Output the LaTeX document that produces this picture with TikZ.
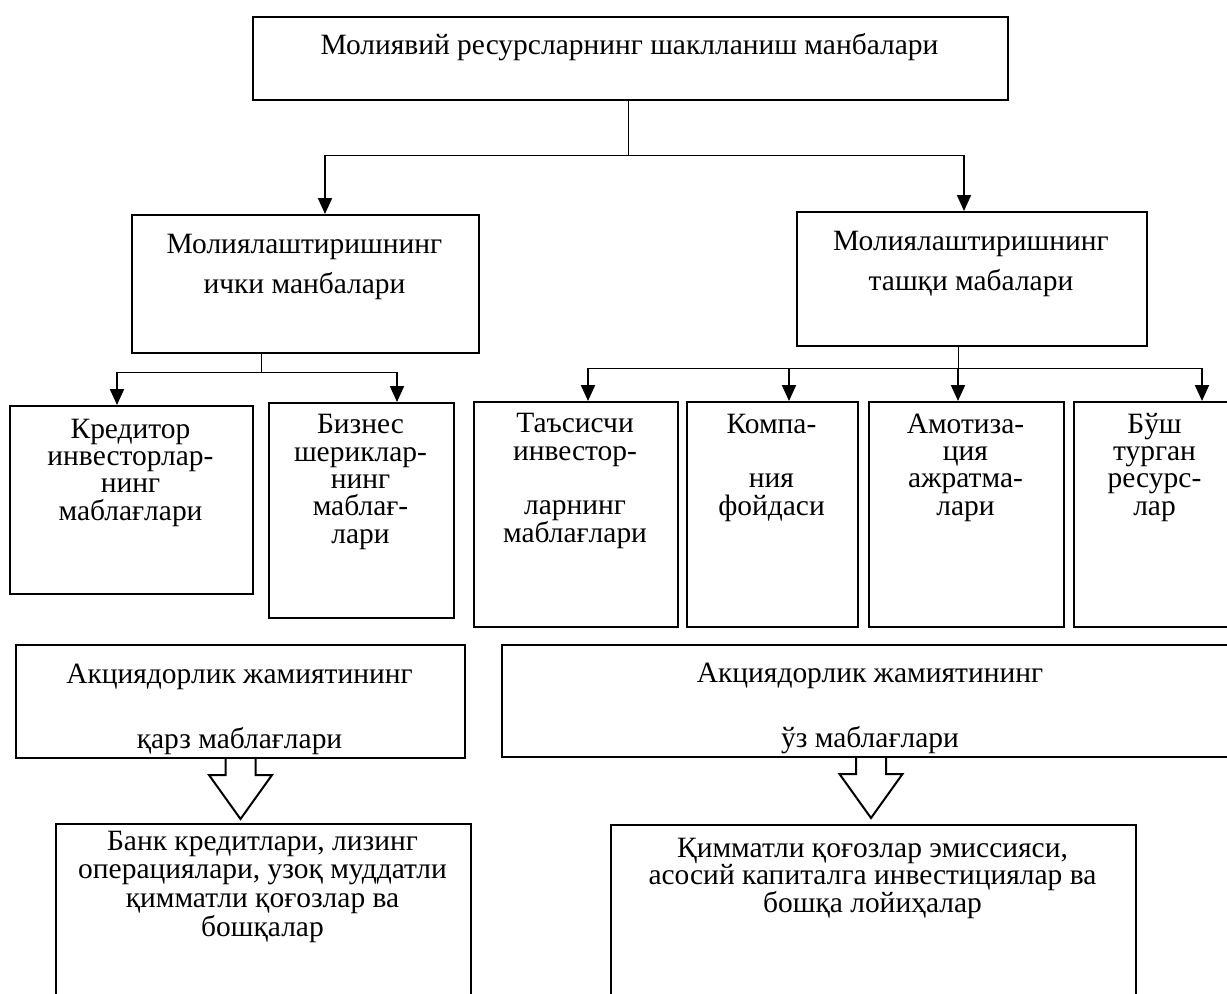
\documentclass[tikz,border=0pt]{standalone}
\usepackage{fontspec}
\setmainfont{Liberation Serif}
\usetikzlibrary{arrows.meta, positioning}

\newcommand{\pxw}{0.75pt}
\setlength{\lineskiplimit}{-30pt}

\tikzset{
  box/.style={draw, line width=1.5pt, anchor=north west, inner sep=0pt},
  conn/.style={line width=0.75pt},
  arr/.style={line width=1.5pt, -{Triangle[width=10.5pt, length=12pt]}},
  hollow/.style={line width=1.5pt, line join=miter},
  bigtext/.style={font=\fontsize{22.1}{29.5}\selectfont, align=center, anchor=base, inner sep=0pt},
  smalltext/.style={font=\fontsize{22.1}{20.5}\selectfont, align=center, anchor=base, inner sep=0pt},
}

\begin{document}
\begin{tikzpicture}[x=0.75pt, y=-0.75pt]
  \useasboundingbox (0,0) rectangle (1227,993);
  \clip (0,0) rectangle (1227,993);

  % Top
  \node[box, minimum width=755*\pxw, minimum height=83*\pxw] (top) at (252,16) {};
  \node[bigtext] (topt) at (629.5,54) {Молиявий ресурсларнинг шаклланиш манбалари};

  % Internal / external sources
  \node[box, minimum width=347*\pxw, minimum height=138*\pxw] (lmid) at (131,214) {};
  \node[bigtext] (lmidt) at (304.5,293) {Молиялаштиришнинг\\ички манбалари};

  \node[box, minimum width=350*\pxw, minimum height=134*\pxw] (rmid) at (796,211) {};
  \node[bigtext] (rmidt) at (971,290) {Молиялаштиришнинг\\ташқи мабалари};

  \coordinate (tj) at (628,155);
  \coordinate (tl) at (325,155);
  \coordinate (tr) at (964,155);
  \draw[conn] (top.south -| tj) -- (tj);
  \draw[conn] (tl) -- (tr);
  \draw[arr] (tl) -- (lmid.north -| tl);
  \draw[arr] (tr) -- (rmid.north -| tr);

  % Internal group
  \node[box, minimum width=243*\pxw, minimum height=188*\pxw] (krd) at (9,405) {};
  \node[smalltext] (krdt) at (130.5,520) {Кредитор\\инвесторлар-\\нинг\\маблағлари};

  \node[box, minimum width=185*\pxw, minimum height=215*\pxw] (biz) at (268,402) {};
  \node[smalltext] (bizt) at (360.5,543) {Бизнес\\шериклар-\\нинг\\маблағ-\\лари};

  \coordinate (lj) at (261,372);
  \coordinate (lk) at (117,372);
  \coordinate (lb) at (397,372);
  \draw[conn] (lmid.south -| lj) -- (lj);
  \draw[conn] (lk) -- (lb);
  \draw[arr] (lk) -- (krd.north -| lk);
  \draw[arr] (lb) -- (biz.north -| lb);

  % External group
  \node[box, minimum width=204*\pxw, minimum height=225*\pxw] (tas) at (473,401) {};
  \node[smalltext] (tast) at (575,542) {Таъсисчи\\инвестор-\\~\\ларнинг\\маблағлари};

  \node[box, minimum width=171*\pxw, minimum height=225*\pxw] (kmp) at (686,401) {};
  \node[smalltext] (kmpt) at (771.5,515) {Компа-\\~\\ния\\фойдаси};

  \node[box, minimum width=195*\pxw, minimum height=225*\pxw] (amt) at (868,401) {};
  \node[smalltext] (amtt) at (965.5,515) {Амотиза-\\ция\\ажратма-\\лари};

  \node[box, minimum width=163*\pxw, minimum height=225*\pxw] (bush) at (1073,401) {};
  \node[smalltext] (busht) at (1154.5,515) {Бўш\\турган\\ресурс-\\лар};

  \coordinate (rj) at (958,368);
  \coordinate (rt) at (588,368);
  \coordinate (rk) at (789,368);
  \coordinate (rb) at (1202,368);
  \draw[conn] (rmid.south -| rj) -- (rj);
  \draw[conn] (rt) -- (rb);
  \draw[arr] (rt) -- (tas.north -| rt);
  \draw[arr] (rk) -- (kmp.north -| rk);
  \draw[arr] (rj) -- (amt.north -| rj);
  \draw[arr] (rb) -- (bush.north -| rb);

  % Borrowed / own funds
  \node[box, minimum width=449*\pxw, minimum height=113*\pxw] (qarz) at (15,644) {};
  \node[bigtext, font=\fontsize{22.1}{48.75}\selectfont] (qarzt) at (239.5,748) {Акциядорлик жамиятининг\\қарз маблағлари};

  \node[box, minimum width=738*\pxw, minimum height=112*\pxw] (uz) at (501,644) {};
  \node[bigtext, font=\fontsize{22.1}{48.75}\selectfont] (uzt) at (870,747) {Акциядорлик жамиятининг\\ўз маблағлари};

  % Bottom boxes
  \node[box, minimum width=415*\pxw, minimum height=200*\pxw] (bank) at (55,823) {};
  \node[smalltext, font=\fontsize{22.1}{21.5}\selectfont] (bankt) at (262.5,936) {Банк кредитлари, лизинг\\операциялари, узоқ муддатли\\қимматли қоғозлар ва\\бошқалар};

  \node[box, minimum width=525*\pxw, minimum height=200*\pxw] (qim) at (610,824) {};
  \node[smalltext] (qimt) at (872.5,912) {Қимматли қоғозлар эмиссияси,\\асосий капиталга инвестициялар ва\\бошқа лойиҳалар};

  % Hollow arrows
  \draw[hollow] (qarz.south) ++(-15,0) -- ++(0,16) -- ++(-16.5,0) -- ++(31.5,44)
    -- ++(31.5,-44) -- ++(-16.5,0) -- ++(0,-16);
  \draw[hollow] (uz.south) ++(-15,0) -- ++(0,16) -- ++(-16.5,0) -- ++(31.5,44)
    -- ++(31.5,-44) -- ++(-16.5,0) -- ++(0,-16);
\end{tikzpicture}
\end{document}
